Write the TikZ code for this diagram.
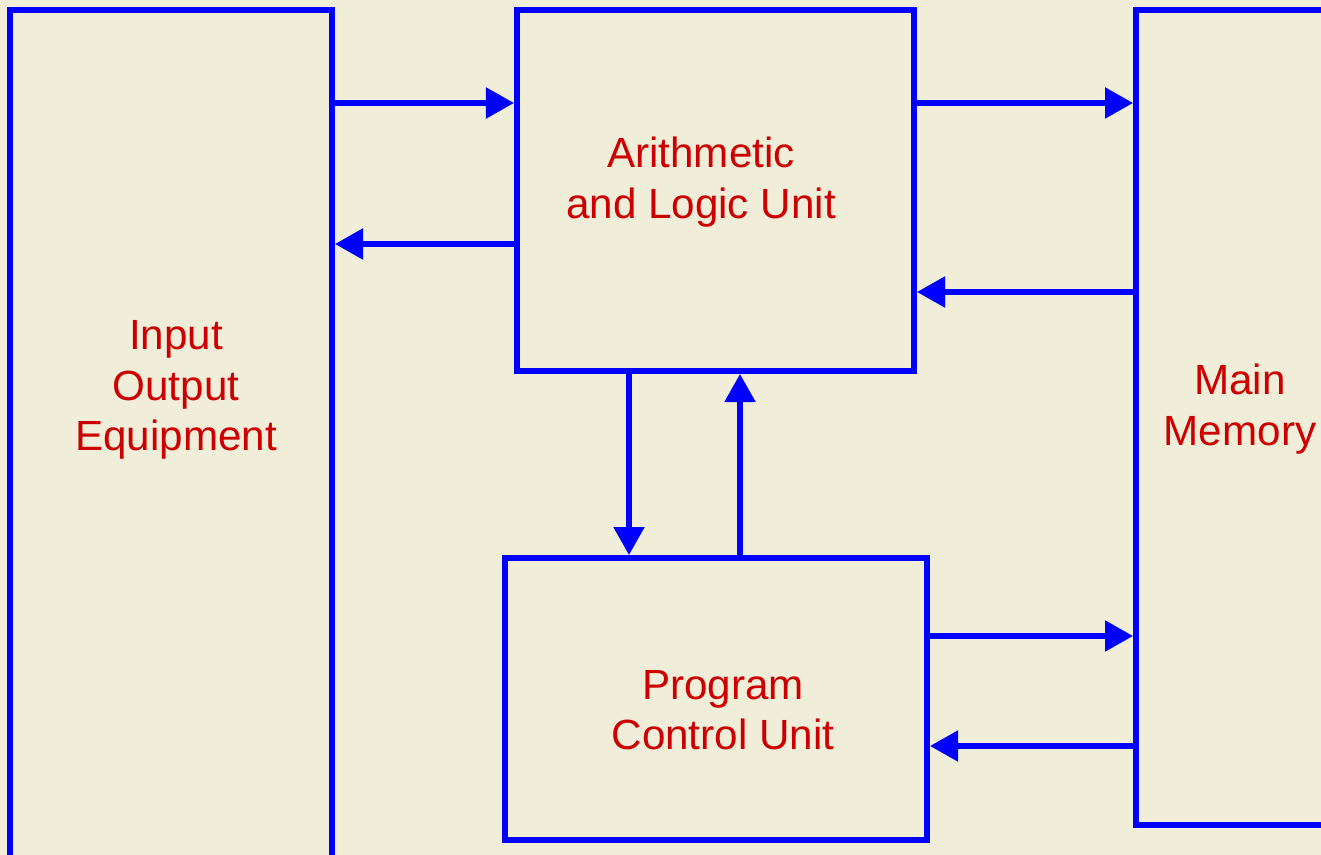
\documentclass[tikz,border=0pt]{standalone}
\usepackage{fontspec}
\setmainfont{Liberation Sans}
\usetikzlibrary{arrows.meta}
\definecolor{paper}{RGB}{240,237,216}
\definecolor{wire}{RGB}{0,0,255}
\definecolor{ink}{RGB}{204,0,0}
\tikzset{
  unit/.style={draw=wire, line width=1.65pt, inner sep=0pt},
  flow/.style={draw=wire, line width=1.5pt, -{Triangle[length=2.8mm, width=3mm]}},
  caption/.style={text=ink, align=center, font=\fontsize{12}{14.3}\selectfont}
}
\begin{document}
\begin{tikzpicture}[x=0.01cm, y=-0.01cm]
\fill[paper] (0,0) rectangle (1321,855);
\useasboundingbox (0,0) rectangle (1321,855);
\clip (0,0) rectangle (1321,855);
% blocks
\node[unit, minimum width=3.22cm, minimum height=8.65cm] (io) at (171,442.5) {};
\node[unit, minimum width=3.97cm, minimum height=3.61cm] (alu) at (715.5,190.5) {};
\node[unit, minimum width=4.22cm, minimum height=2.82cm] (pcu) at (716,699) {};
\node[unit, minimum width=2.04cm, minimum height=8.15cm] (mem) at (1238,417.5) {};
% labels
\node[caption] (iotext) at (176,390) {Input\\Output\\Equipment};
\node[caption] (alutext) at (701,182) {Arithmetic\\and Logic Unit};
\node[caption] (pcutext) at (723,710) {Program\\Control Unit};
\node[caption] (memtext) at (1240,409) {Main\\Memory};
% data paths
\draw[flow] (io.east |- 0,103) -- (alu.west |- 0,103);
\draw[flow] (alu.west |- 0,244) -- (io.east |- 0,244);
\draw[flow] (alu.east |- 0,103) -- (mem.west |- 0,103);
\draw[flow] (mem.west |- 0,292) -- (alu.east |- 0,292);
\draw[flow] (alu.south -| 629,0) -- (pcu.north -| 629,0);
\draw[flow] (pcu.north -| 740,0) -- (alu.south -| 740,0);
\draw[flow] (pcu.east |- 0,636) -- (mem.west |- 0,636);
\draw[flow] (mem.west |- 0,746) -- (pcu.east |- 0,746);
\end{tikzpicture}
\end{document}
